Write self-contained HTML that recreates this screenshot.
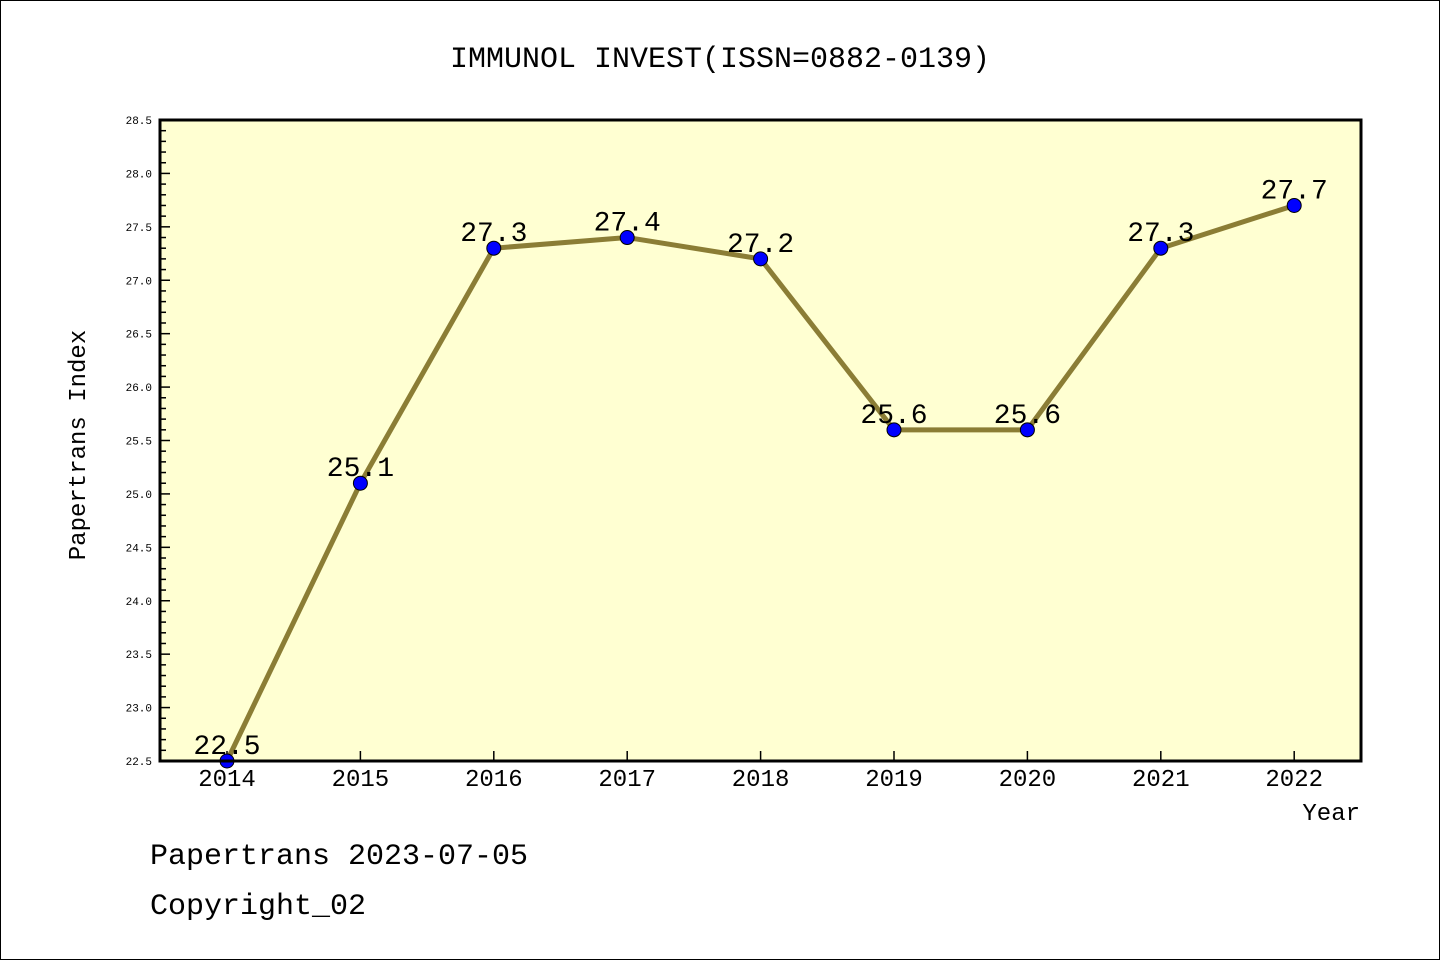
<!DOCTYPE html>
<html><head><meta charset="utf-8"><style>
body{margin:0;background:#fff}
svg{display:block}
text{font-family:"Liberation Mono","DejaVu Sans Mono",monospace}
</style></head><body>
<svg id="chart" width="1440" height="960" xmlns="http://www.w3.org/2000/svg">
<rect x="0.5" y="0.5" width="1439" height="959" fill="#fff" stroke="#000"/>
<text x="720" y="67" font-size="30" text-anchor="middle">IMMUNOL INVEST(ISSN=0882-0139)</text>
<rect x="160" y="120" width="1201" height="641" fill="#ffffd2"/>
<g id="axes"></g>
<g id="series"></g>
<rect x="160" y="120" width="1201" height="641" fill="none" stroke="#000" stroke-width="3"/>
<text x="85" y="445" font-size="24" text-anchor="middle" transform="rotate(-90 85 445)">Papertrans Index</text>
<text x="1360" y="820" font-size="24" text-anchor="end">Year</text>
<text x="150" y="864" font-size="30">Papertrans 2023-07-05</text>
<text x="150" y="914" font-size="30">Copyright_02</text>
</svg>
<script>
const categories=["2014","2015","2016","2017","2018","2019","2020","2021","2022"];
const values=[22.5,25.1,27.3,27.4,27.2,25.6,25.6,27.3,27.7];
const yTicks=["22.5","23.0","23.5","24.0","24.5","25.0","25.5","26.0","26.5","27.0","27.5","28.0","28.5"];
const NS="http://www.w3.org/2000/svg";
const yMin=22.5,yMax=28.5;
function y(v){return 761-(v-yMin)/(yMax-yMin)*641;}
function x(i){return 227+i*133.4;}
function mk(tag,attrs,parent,txt){const e=document.createElementNS(NS,tag);for(const k in attrs)e.setAttribute(k,attrs[k]);if(txt!==undefined)e.textContent=txt;parent.appendChild(e);return e;}
const ax=document.getElementById('axes');
for(let k=0;k<=60;k++){const v=yMin+k*0.1;const yy=y(v);const major=k%5===0;
 const t=mk('line',{x1:160,x2:160+(major?10:6),y1:yy,y2:yy,stroke:'#000','stroke-width':1.5},ax);
 
 }
yTicks.forEach(s=>{const t=mk('text',{x:152,y:y(parseFloat(s))+4,'font-size':11,'text-anchor':'end','font-family':'Liberation Sans, sans-serif'},ax,s);
 
 });
categories.forEach((c,i)=>{const l=mk('line',{x1:x(i),x2:x(i),y1:761,y2:751,stroke:'#000','stroke-width':1.5},ax);
 
 
 const t=mk('text',{x:x(i),y:786,'font-size':24,'text-anchor':'middle'},ax,c);
 
 });
const sg=document.getElementById('series');
const line=mk('polyline',{points:values.map((v,i)=>x(i)+','+y(v)).join(' '),fill:'none',stroke:'#8b7d35','stroke-width':5},sg);


values.forEach((v,i)=>{const c=mk('circle',{cx:x(i),cy:y(v),r:7,fill:'#0000ff',stroke:'#000','stroke-width':1},sg);
 
 
 const t=mk('text',{x:x(i),y:y(v)-7,'font-size':28,'text-anchor':'middle'},sg,v.toFixed(1));
 
 });
</script>
</body></html>
